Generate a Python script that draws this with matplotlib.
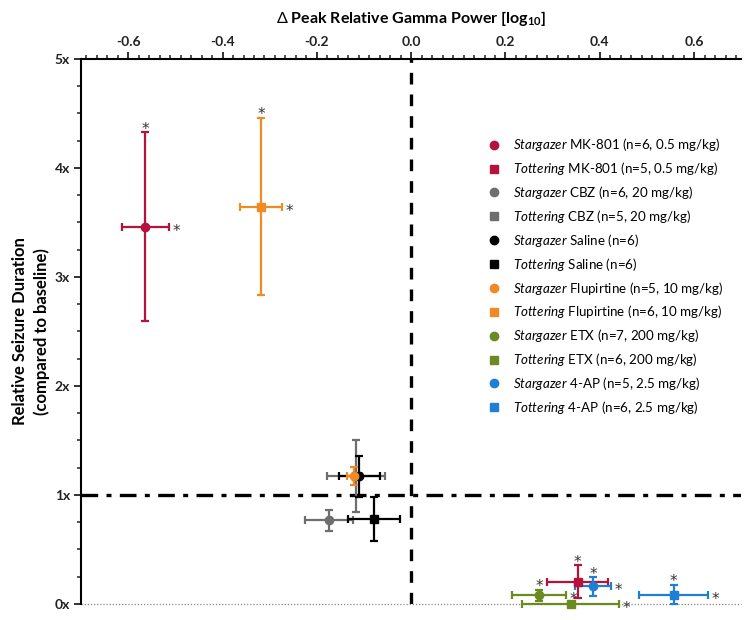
import matplotlib
matplotlib.use("Agg")
import matplotlib.pyplot as plt
from matplotlib.lines import Line2D
from matplotlib.ticker import AutoMinorLocator, MultipleLocator

plt.rcParams["font.family"] = ["Lato", "DejaVu Sans"]
plt.rcParams["axes.unicode_minus"] = False
plt.rcParams["mathtext.fontset"] = "custom"
plt.rcParams["mathtext.rm"] = "Lato"
plt.rcParams["mathtext.it"] = "Lato:italic"
plt.rcParams["mathtext.bf"] = "Lato:bold"

# --- data ---
strains = ["Stargazer", "Tottering"] * 6
drugs = ["MK-801", "MK-801", "CBZ", "CBZ", "Saline", "Saline",
         "Flupirtine", "Flupirtine", "ETX", "ETX", "4-AP", "4-AP"]
details = ["(n=6, 0.5 mg/kg)", "(n=5, 0.5 mg/kg)", "(n=6, 20 mg/kg)", "(n=5, 20 mg/kg)",
           "(n=6)", "(n=6)", "(n=5, 10 mg/kg)", "(n=6, 10 mg/kg)",
           "(n=7, 200 mg/kg)", "(n=6, 200 mg/kg)", "(n=5, 2.5 mg/kg)", "(n=6, 2.5 mg/kg)"]
gamma = [-0.564, 0.353, -0.175, -0.117, -0.110, -0.078, -0.121, -0.318, 0.271, 0.338, 0.386, 0.557]
gamma_err = [0.050, 0.064, 0.051, 0.062, 0.044, 0.055, 0.016, 0.044, 0.057, 0.103, 0.038, 0.073]
seizure = [3.46, 0.205, 0.765, 1.17, 1.17, 0.78, 1.175, 3.645, 0.08, 0.0, 0.16, 0.085]
seizure_err = [0.865, 0.15, 0.092, 0.33, 0.19, 0.20, 0.08, 0.815, 0.05, 0.0, 0.084, 0.089]
star_top = [True, True, False, False, False, False, False, True, True, False, True, True]
star_right = [True, False, False, False, False, False, False, True, True, True, True, True]
colors = ["#B5123E", "#B5123E", "#6E6E6E", "#6E6E6E", "#000000", "#000000",
          "#F08A24", "#F08A24", "#6B8A22", "#6B8A22", "#1F7FD2", "#1F7FD2"]
markers = ["o", "s"] * 6
y_ticks = [0, 1, 2, 3, 4, 5]
y_tick_labels = ["0x", "1x", "2x", "3x", "4x", "5x"]
x_ticks = [-0.6, -0.4, -0.2, 0.0, 0.2, 0.4, 0.6]

fig = plt.figure(figsize=(7.51, 6.2), dpi=100)
ax = fig.add_axes([0.108, 0.026, 0.879, 0.879])

ax.set_xlim(-0.7, 0.7)
ax.set_ylim(0, 5)

# reference lines
ax.axvline(0, color="black", linewidth=2.4, dashes=(3.5, 3), zorder=1)
ax.axhline(1, color="black", linewidth=2.4, dashes=(5, 2.5, 1.5, 2.5), zorder=1)
ax.axhline(0, color="#888888", linewidth=0.9, linestyle=(0, (1, 1.5)), zorder=1, clip_on=False)

star_kw = dict(textcoords="offset points", fontsize=11, color="#333333", zorder=4,
               annotation_clip=False, family="DejaVu Sans", va="baseline")
for i in range(len(gamma)):
    ax.errorbar(gamma[i], seizure[i], xerr=gamma_err[i], yerr=seizure_err[i],
                fmt=markers[i], color=colors[i], ecolor=colors[i], markersize=6,
                elinewidth=1.6, capsize=3, capthick=1.6, zorder=3, clip_on=False)
    if star_top[i]:
        ax.annotate("*", (gamma[i], seizure[i] + seizure_err[i]), xytext=(0, -1),
                    ha="center", **star_kw)
    if star_right[i]:
        ax.annotate("*", (gamma[i] + gamma_err[i], seizure[i]), xytext=(2.5, -6.5),
                    ha="left", **star_kw)

# axes styling: top x axis, left y axis
for side in ["bottom", "right"]:
    ax.spines[side].set_visible(False)
for side in ["top", "left"]:
    ax.spines[side].set_linewidth(1.5)
ax.xaxis.set_ticks_position("top")
ax.xaxis.set_label_position("top")
ax.set_xticks(x_ticks)
ax.set_xticklabels([f"{v:.1f}" for v in x_ticks])
ax.xaxis.set_minor_locator(AutoMinorLocator(9))
ax.set_yticks(y_ticks)
ax.set_yticklabels(y_tick_labels)
ax.yaxis.set_minor_locator(MultipleLocator(0.25))
ax.tick_params(axis="both", which="major", direction="out", length=5, width=1.3,
               labelsize=10, colors="#222222", pad=3)
ax.tick_params(axis="both", which="minor", direction="out", length=3, width=1.1, colors="#222222")
for lab in ax.get_xticklabels() + ax.get_yticklabels():
    lab.set_fontweight("bold")

ax.set_xlabel(r"$\Delta$ Peak Relative Gamma Power [log$_{\mathbf{10}}$]",
              fontsize=11.5, fontweight="bold", labelpad=9)
ax.set_ylabel("Relative Seizure Duration\n(compared to baseline)",
              fontsize=12, fontweight="bold", labelpad=3, linespacing=1.4)

handles = [Line2D([], [], marker=markers[i], color=colors[i], linestyle="none", markersize=6)
           for i in range(len(gamma))]
labels = [rf"$\it{{{strains[i]}}}$ {drugs[i]} {details[i]}" for i in range(len(gamma))]
ax.legend(handles, labels, loc="upper left", bbox_to_anchor=(0.605, 0.87), frameon=False,
          fontsize=9.6, handlelength=1, handletextpad=0.95, labelspacing=0.515, borderpad=0)

fig.savefig("out.png", dpi=100)
